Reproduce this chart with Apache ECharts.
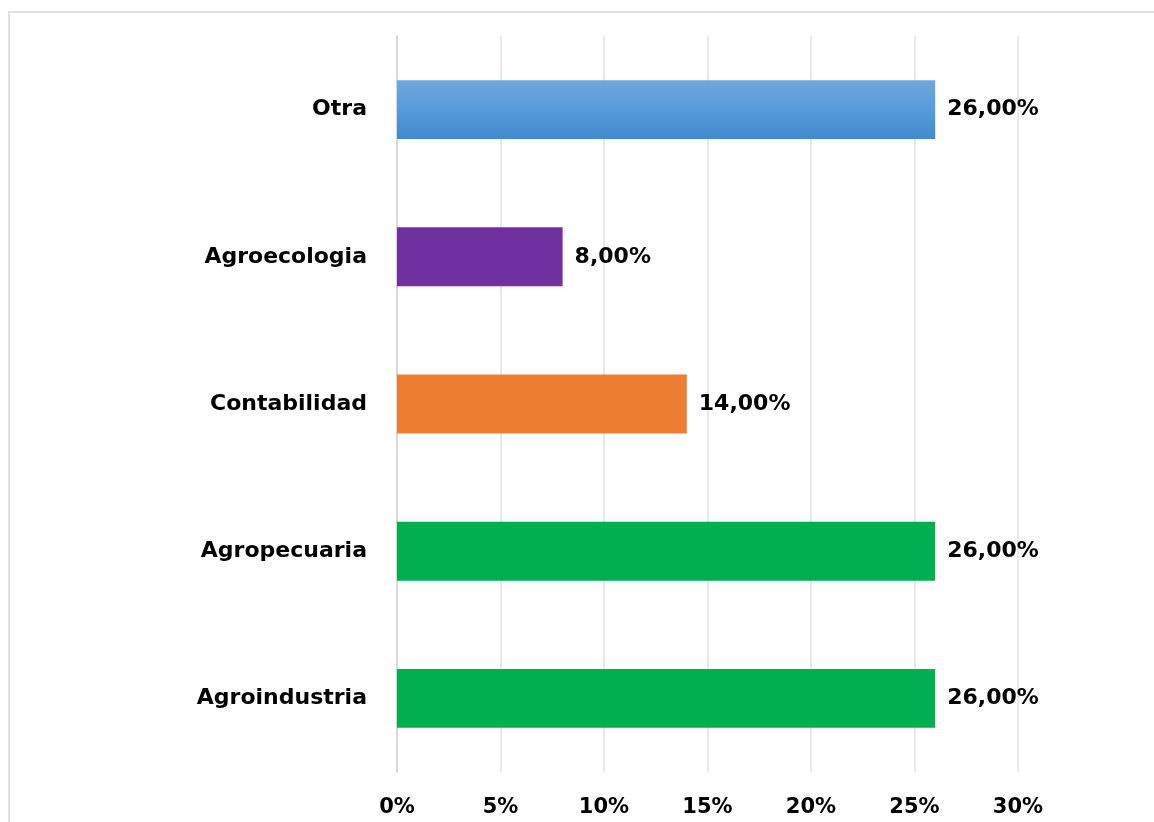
<!DOCTYPE html>
<html>
<head>
<meta charset="utf-8">
<style>
  html, body { margin: 0; padding: 0; background: #fff; }
  #main { width: 1154px; height: 822px; }
</style>
<script src="https://cdn.jsdelivr.net/npm/echarts@6/dist/echarts.min.js"></script>
</head>
<body>
<div id="main"></div>
<script>
var categories = ['Agroindustria', 'Agropecuaria', 'Contabilidad', 'Agroecologia', 'Otra']
var values = [26, 26, 14, 8, 26]
var barColors = [
    '#00AF50',
    '#00AF50',
    '#ED7D31',
    '#7030A0',
    { type: 'linear', x: 0, y: 0, x2: 0, y2: 1,
      colorStops: [{ offset: 0, color: '#6FA7DD' }, { offset: 0.5, color: '#569BDB' }, { offset: 1, color: '#438ACC' }] }
]
var tickLabels = ['0%', '5%', '10%', '15%', '20%', '25%', '30%']

var font = 'DejaVu Sans'

var myChart = echarts.init(document.getElementById('main'))

var option = {
    animation: false,
    graphic: [{
        type: 'rect',
        shape: { x: 9, y: 12, width: 1300, height: 1000 },
        style: { fill: 'none', stroke: '#DEE2E7', lineWidth: 2 },
        silent: true
    }],
    grid: { left: 397, right: 136, top: 36, bottom: 50 },
    xAxis: {
        type: 'value',
        min: 0,
        max: 30,
        interval: 5,
        axisLine: { show: false },
        axisTick: { show: false },
        splitLine: { lineStyle: { color: '#DDE1E6', width: 1.5 } },
        axisLabel: {
            margin: 25,
            fontFamily: font,
            fontWeight: 'bold',
            fontSize: 21,
            color: '#000',
            formatter: function (v) { return tickLabels[v / 5] }
        }
    },
    yAxis: {
        type: 'category',
        data: categories,
        axisLine: { show: true, lineStyle: { color: '#D0D4DA', width: 1.5 } },
        axisTick: { show: false },
        axisLabel: {
            margin: 30,
            fontFamily: font,
            fontWeight: 'bold',
            fontSize: 22,
            color: '#000'
        }
    },
    series: [{
        type: 'bar',
        barWidth: '40%',
        data: values.map(function (v, i) {
            return { value: v, itemStyle: { color: barColors[i] } }
        }),
        label: {
            show: true,
            position: 'right',
            distance: 12,
            fontFamily: font,
            fontWeight: 'bold',
            fontSize: 22,
            color: '#000',
            formatter: function (p) { return p.value.toFixed(2).replace('.', ',') + '%' }
        }
    }]
}

myChart.setOption(option)
</script>
</body>
</html>
